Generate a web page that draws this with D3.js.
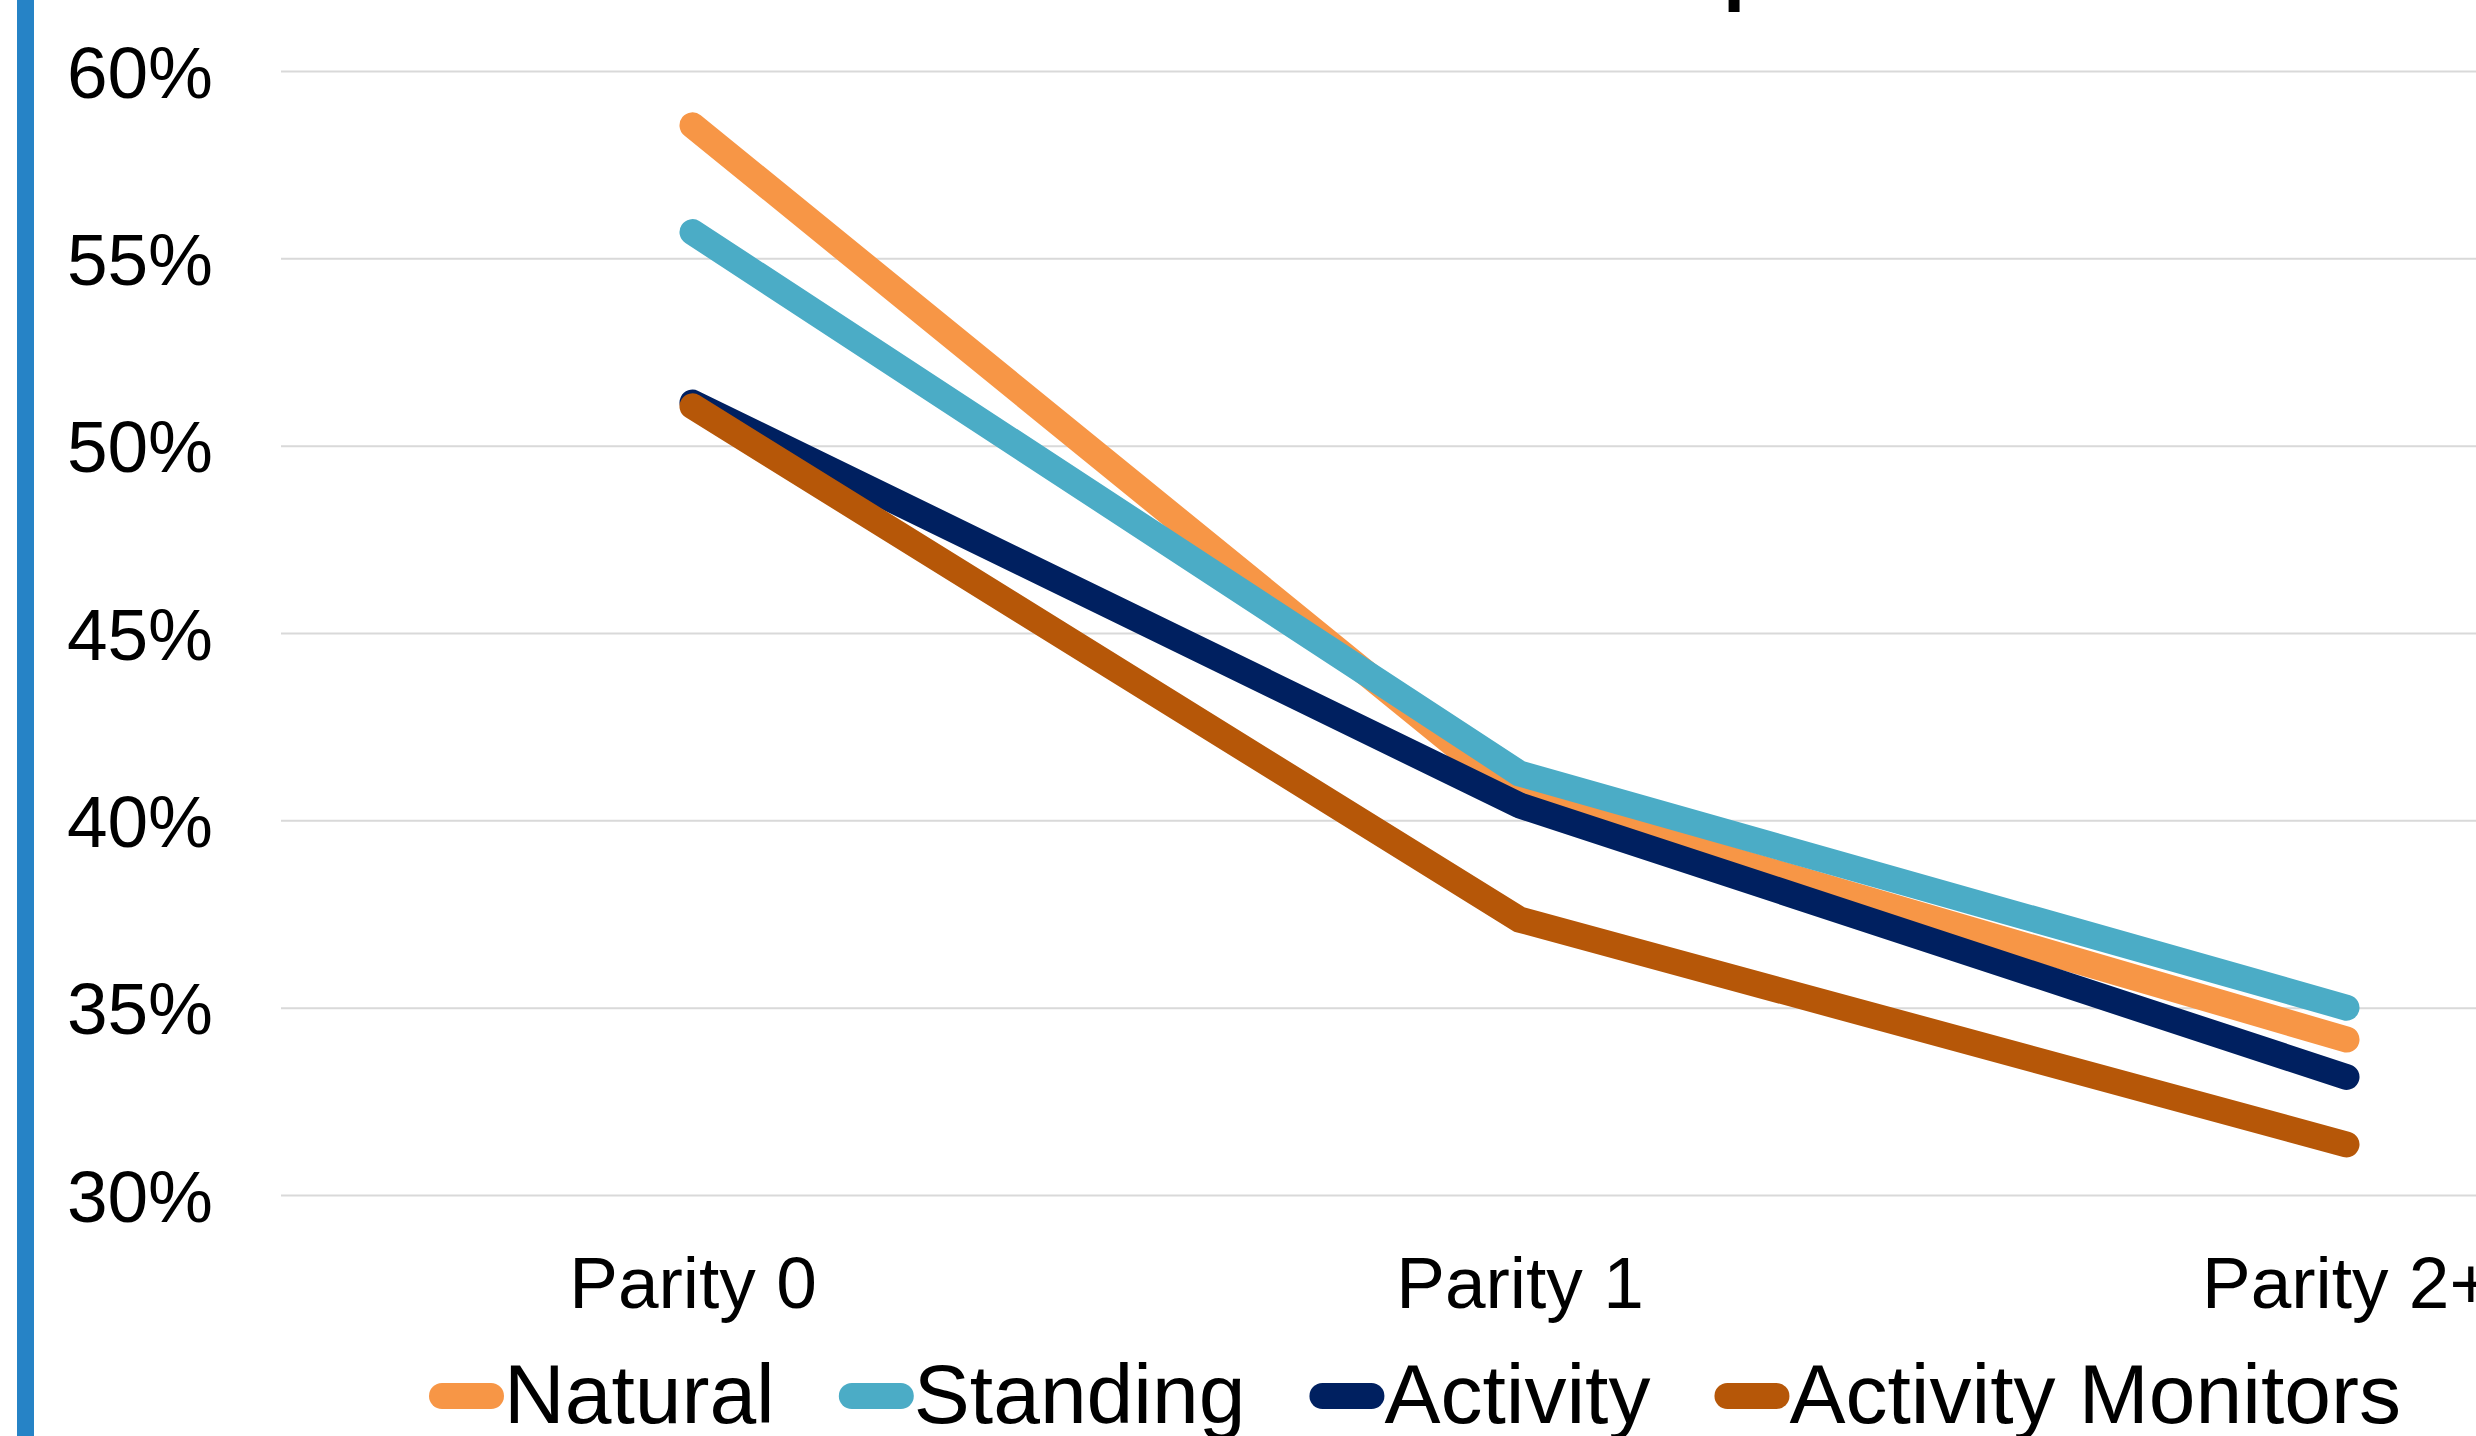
<!DOCTYPE html>
<html>
<head>
<meta charset="utf-8">
<script src="https://cdn.jsdelivr.net/npm/d3@7"></script>
<style>
  html, body { margin: 0; padding: 0; background: #fff; overflow: hidden; }
  svg { display: block; font-family: "Liberation Sans", Arial, sans-serif; }
</style>
</head>
<body>
<svg id="chart" width="2476" height="1436"></svg>
<script>
const categories = ["Parity 0", "Parity 1", "Parity 2+"];
const seriesNames = ["Natural", "Standing", "Activity", "Activity Monitors"];
const natural = [0.5855, 0.406, 0.3415];
const standing = [0.557, 0.4125, 0.350];
const activity = [0.5115, 0.404, 0.3315];
const activityMonitors = [0.5105, 0.3735, 0.3135];
const seriesValues = [natural, standing, activity, activityMonitors];
const seriesColors = ["#F79646", "#4BACC6", "#002060", "#B65708"];
const yTicks = [0.30, 0.35, 0.40, 0.45, 0.50, 0.55, 0.60];

const svg = d3.select("#chart");
const W = 2476, H = 1436;
svg.append("rect").attr("width", W).attr("height", H).attr("fill", "#fff");

// left accent bar
svg.append("rect").attr("x", 17).attr("y", 0).attr("width", 17).attr("height", H).attr("fill", "#2683C6");

// title fragment (cut off at top)
svg.append("text").attr("x", 1723).attr("y", -5)
  .attr("font-size", 80).attr("font-weight", "bold").attr("fill", "#000").text("p");

const x = d3.scalePoint().domain(categories).range([279, 2760]).padding(0.5);
const y = d3.scaleLinear().domain([0.30, 0.60]).range([1195, 71]);

// gridlines
const yAxis = d3.axisLeft(y).tickValues(yTicks).tickSize(-(W - 281)).tickFormat(d3.format(".0%"));
const gy = svg.append("g").attr("transform", "translate(281,0)").call(yAxis);
gy.select(".domain").remove();
gy.selectAll(".tick line").attr("stroke", "#D9D9D9").attr("stroke-width", 2);
gy.selectAll(".tick text")
  .attr("x", -68).attr("dy", "0.358em")
  .attr("font-size", 73).attr("fill", "#000").attr("text-anchor", "end")
  .attr("font-family", "Liberation Sans, Arial, sans-serif");

// x axis labels
const xAxis = d3.axisBottom(x).tickSize(0);
const gx = svg.append("g").attr("transform", "translate(0,1308)").call(xAxis);
gx.select(".domain").remove();
gx.selectAll(".tick text")
  .attr("y", 0).attr("dy", 0)
  .attr("font-size", 73).attr("fill", "#000")
  .attr("font-family", "Liberation Sans, Arial, sans-serif");

// lines
const line = d3.line().x((d, i) => x(categories[i])).y(d => y(d));
seriesValues.forEach((vals, s) => {
  svg.append("path").datum(vals)
    .attr("d", line)
    .attr("fill", "none")
    .attr("stroke", seriesColors[s])
    .attr("stroke-width", 26)
    .attr("stroke-linecap", "round")
    .attr("stroke-linejoin", "round");
});

// legend
let lx = 429;
const legendBaseline = 1423;
seriesNames.forEach((name, s) => {
  const g = svg.append("g");
  g.append("line")
    .attr("x1", lx + 13).attr("x2", lx + 62)
    .attr("y1", 1396).attr("y2", 1396)
    .attr("stroke", seriesColors[s]).attr("stroke-width", 26).attr("stroke-linecap", "round");
  const t = g.append("text").attr("x", lx + 75).attr("y", legendBaseline)
    .attr("font-size", 84).attr("fill", "#000").text(name);
  const w = t.node().getComputedTextLength();
  lx = lx + 75 + w + 64;
});
</script>
</body>
</html>
